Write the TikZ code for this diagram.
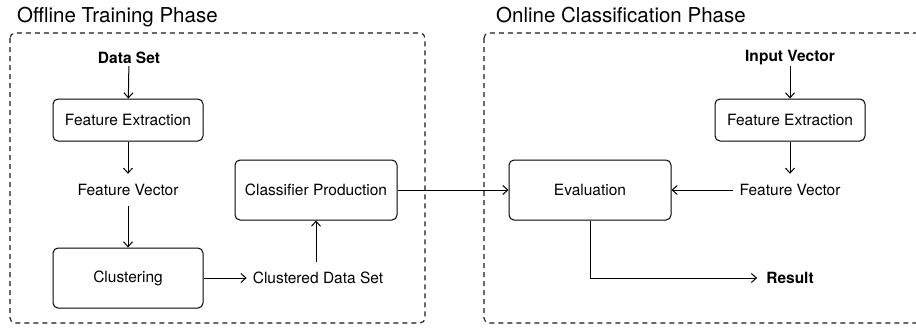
\documentclass[tikz,border=0pt]{standalone}
\usepackage{fontspec}
\setmainfont{TeX Gyre Heros}
\usetikzlibrary{arrows.meta}
\begin{document}
\begin{tikzpicture}[x=1pt,y=-1pt,
  every node/.style={font=\fontsize{15.5}{18}\selectfont},
  procbox/.style={draw, line width=1pt, rounded corners=5pt, inner sep=0pt,
    minimum width=150pt, minimum height=42pt},
  bigbox/.style={procbox, minimum width=162pt, minimum height=60pt},
  label/.style={inner xsep=6pt, inner ysep=0pt, minimum height=32pt},
  inlabel/.style={font=\fontsize{15.5}{18}\selectfont\bfseries, inner sep=0pt, minimum height=16pt},
  phase/.style={draw, dashed, dash pattern=on 5pt off 4pt, line width=1.1pt,
    rounded corners=5pt, color=black!90},
  title/.style={font=\fontsize{20.5}{24}\selectfont, anchor=base west, inner sep=0pt},
  flow/.style={line width=1pt, -{Straight Barb[length=5pt,width=9pt]}}
]
\useasboundingbox (0,0) rectangle (916,327);
\clip (0,0) rectangle (916,327);

% phase frames and titles
\draw[phase] (10,33) rectangle (425,323);
\draw[phase] (484,33) rectangle (930,323);
\node[title] (t1) at (17,22) {Offline Training Phase};
\node[title] (t2) at (496,22) {Online Classification Phase};

% offline training
\node[inlabel] (ds) at (129,58) {Data Set};
\node[procbox] (fe1) at (128,120) {Feature Extraction};
\node[label] (fv1) at (128,190) {Feature Vector};
\node[procbox, minimum height=60pt] (cl) at (128,278) {Clustering};
\node[label] (cds) at (318,278) {Clustered Data Set};
\node[bigbox] (cp) at (316,190) {Classifier Production};

% online classification
\node[inlabel] (iv) at (790,58) {Input Vector};
\node[procbox] (fe2) at (790,120) {Feature Extraction};
\node[label] (fv2) at (790,190) {Feature Vector};
\node[bigbox] (ev) at (590,190) {Evaluation};
\node[inlabel, inner xsep=9pt] (res) at (790,278) {Result};

% connectors
\draw[flow] (ds) -- (fe1);
\draw[flow] (fe1) -- (fv1);
\draw[flow] (fv1) -- (cl);
\draw[flow] (cl) -- (cds);
\draw[flow] (cds.north -| cp.south) -- (cp.south);
\draw[flow] (cp) -- (ev);
\draw[flow] (iv) -- (fe2);
\draw[flow] (fe2) -- (fv2);
\draw[flow] (fv2) -- (ev);
\draw[flow] (ev.south) |- (res.west);
\end{tikzpicture}
\end{document}
